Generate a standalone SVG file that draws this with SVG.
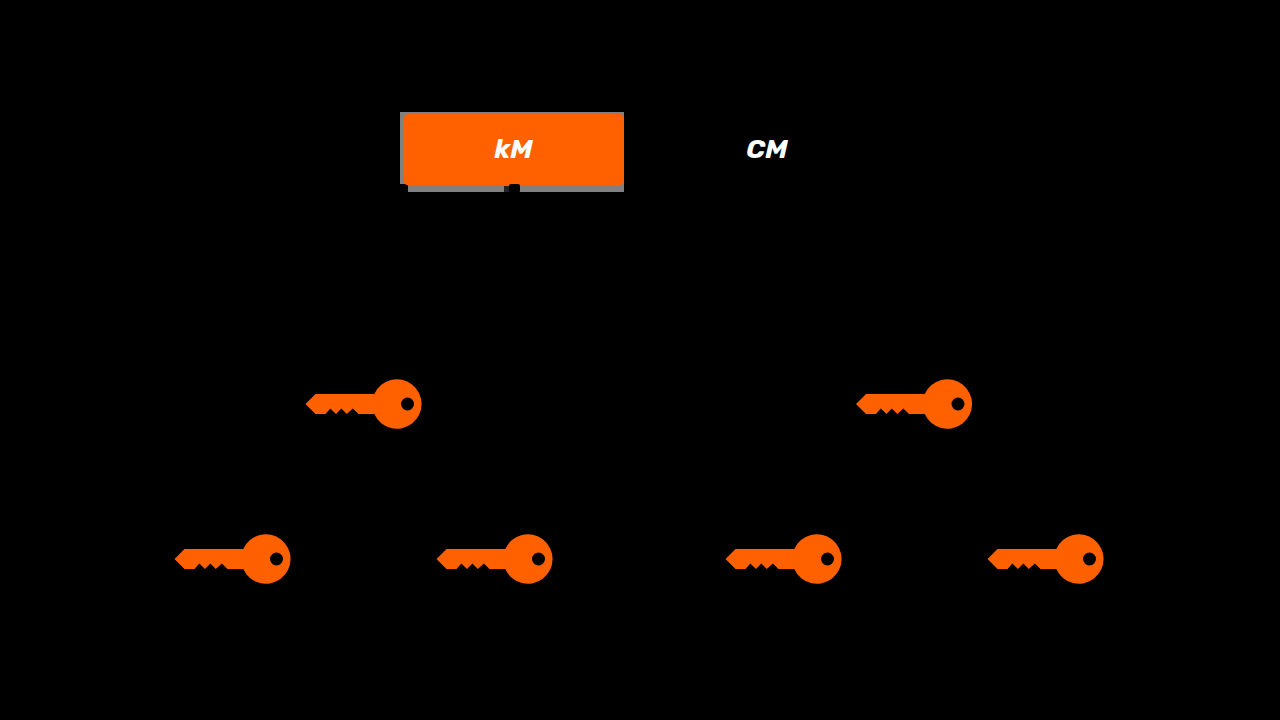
<svg xmlns="http://www.w3.org/2000/svg" width="1280" height="720" viewBox="0 0 1280 720">
<style>
.lbl{font-family:"Rubik","Roboto","Liberation Sans",sans-serif;font-weight:700;font-style:italic;font-size:27px;fill:#fff;text-anchor:middle}
.key{fill:#ff6000}
</style>
<defs>
<g id="key">
<path class="key" fill-rule="evenodd" d="M305.500 404L315.500 394H374.300A24.700 24.700 0 1 1 374.300 414H358.500L352.800 408.500L346.800 414L341.300 408.500L336 414L330.300 408.500L325.500 414H315.500ZM414 404A6.500 6.500 0 1 0 401 404A6.500 6.500 0 1 0 414 404Z"/>
</g>
</defs>
<rect width="1280" height="720" fill="#000"/>
<g id="connectors"></g>
<g id="node-km">
<path d="M400 112H624V192H408V184H400Z" fill="#808080"/>
<rect x="403.500" y="114" width="220.500" height="71.500" rx="5" fill="#ff6000"/>
<rect x="504" y="186" width="16" height="6" fill="#222"/>
<rect x="509" y="184" width="11" height="8" rx="2" fill="#000"/>
<text class="lbl" x="513.500" y="158">kM</text>
</g>
<g id="node-cm"><text class="lbl" x="767" y="158">CM</text></g>
<g id="key-1"><use href="#key"/></g>
<g id="key-2"><use href="#key" x="550.500"/></g>
<g id="key-3"><use href="#key" x="-131" y="155"/></g>
<g id="key-4"><use href="#key" x="131" y="155"/></g>
<g id="key-5"><use href="#key" x="420" y="155"/></g>
<g id="key-6"><use href="#key" x="682" y="155"/></g>
</svg>
